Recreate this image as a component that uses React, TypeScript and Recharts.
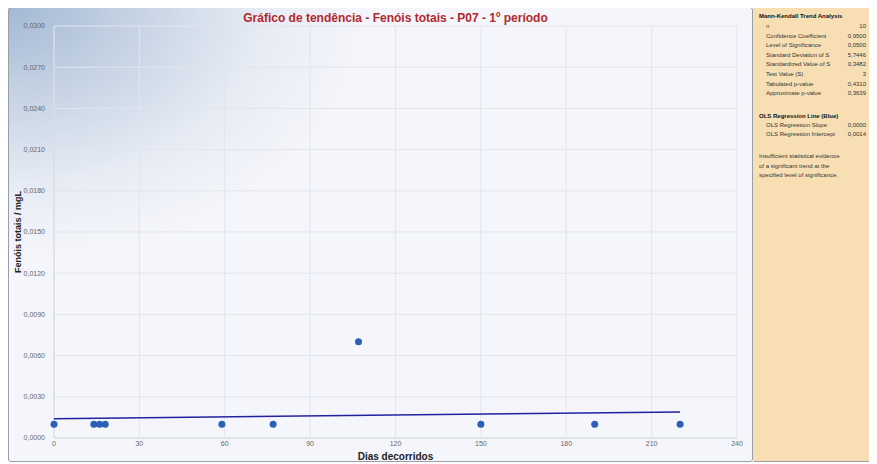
import { ScatterChart, Scatter, XAxis, YAxis, CartesianGrid } from 'recharts';

const days = [0, 14, 16, 18, 59, 77, 107, 150, 190, 220];
const values = [0.001, 0.001, 0.001, 0.001, 0.001, 0.001, 0.007, 0.001, 0.001, 0.001];
const regressionDays = [0, 220];
const regressionValues = [0.0014, 0.0019];
const xTicks = [0, 30, 60, 90, 120, 150, 180, 210, 240];
const yTicks = [0, 0.003, 0.006, 0.009, 0.012, 0.015, 0.018, 0.021, 0.024, 0.027, 0.03];

const mkLabels = ['n', 'Confidence Coefficient', 'Level of Significance', 'Standard Deviation of S', 'Standardized Value of S', 'Test Value (S)', 'Tabulated p-value', 'Approximate p-value'];
const mkValues = ['10', '0,9500', '0,0500', '5,7446', '0,3482', '3', '0,4310', '0,3639'];
const olsLabels = ['OLS Regression Slope', 'OLS Regression Intercept'];
const olsValues = ['0,0000', '0,0014'];
const conclusion = ['Insufficient statistical evidence', 'of a significant trend at the', 'specified level of significance.'];

const points = days.map((d, i) => ({ day: d, value: values[i] }));
const regression = regressionDays.map((d, i) => ({ day: d, value: regressionValues[i] }));

const fmt = (v: number) => v.toFixed(4).replace('.', ',');
const font = '"Liberation Sans", Arial, sans-serif';

function Row({ label, value }: { label: string; value: string }) {
    return (
        <div style={{ display: 'flex', justifyContent: 'space-between', paddingLeft: 7, height: 9.6, lineHeight: '9.6px', whiteSpace: 'nowrap' }}>
            <span>{label}</span>
            <span>{value}</span>
        </div>
    );
}

// y axis title, centred on the plot height
const YTitle = (props: any) => {
    const { x, y, height } = props.viewBox;
    const cx = x + 7;
    const cy = y + height / 2;
    return (
        <text
            x={cx}
            y={cy}
            transform={`rotate(-90 ${cx} ${cy})`}
            textAnchor="middle"
            fill="#222"
            fontSize={9}
            fontWeight="bold"
            fontFamily={font}
        >
            Fenóis totais / mgL
        </text>
    );
};

export default function App() {
    return (
        <div style={{ position: 'relative', width: 861, height: 455, marginTop: -1, fontFamily: font }}>
            <div
                style={{
                    position: 'absolute',
                    left: 0,
                    top: 0,
                    width: 743,
                    height: 453,
                    border: '1px solid #9a9ea6',
                    borderRadius: 3,
                    background: 'radial-gradient(ellipse 360px 250px at 0 0, #a3b9d4 0%, #c6d3e4 35%, #e6ebf4 70%, #f5f6fb 100%)',
                    backgroundColor: '#f5f6fb',
                }}
            >
                <div
                    style={{
                        position: 'absolute',
                        left: 45,
                        width: 683,
                        top: 3,
                        textAlign: 'center',
                        color: '#b3282d',
                        fontWeight: 'bold',
                        fontSize: 12,
                    }}
                >
                    Gráfico de tendência - Fenóis totais - P07 - 1º período
                </div>
                <ScatterChart width={743} height={453} margin={{ top: 18, right: 15, bottom: 0, left: 5 }}>
                    <CartesianGrid stroke="#e2e5ec" horizontalValues={yTicks} verticalValues={xTicks} />
                    <XAxis
                        type="number"
                        dataKey="day"
                        domain={[0, 240]}
                        ticks={xTicks}
                        axisLine={{ stroke: '#d6d9e0' }}
                        tickLine={false}
                        tickSize={3}
                        tick={{ fill: '#666', fontSize: 7, fontFamily: font }}
                        height={23}
                        tickMargin={0}
                        label={{ value: 'Dias decorridos', position: 'insideBottom', offset: 1, fill: '#222', fontSize: 10, fontWeight: 'bold', fontFamily: font }}
                    />
                    <YAxis
                        type="number"
                        dataKey="value"
                        domain={[0, 0.03]}
                        ticks={yTicks}
                        tickFormatter={fmt}
                        axisLine={{ stroke: '#d6d9e0' }}
                        tickLine={false}
                        tick={{ fill: '#666', fontSize: 7, fontFamily: font }}
                        width={40}
                        tickMargin={3}
                        label={{ content: YTitle }}
                    />
                    <Scatter
                        data={regression}
                        line={{ stroke: '#2222a0', strokeWidth: 1.5 }}
                        shape={() => null}
                        isAnimationActive={false}
                    />
                    <Scatter
                        data={points}
                        fill="#2b5fb8"
                        shape={(p: any) => <circle cx={p.cx} cy={p.cy} r={3.5} fill="#2b5fb8" />}
                        isAnimationActive={false}
                    />
                </ScatterChart>
            </div>
            <div
                style={{
                    position: 'absolute',
                    left: 745,
                    top: -2,
                    width: 116,
                    height: 457,
                    background: '#f7dfb3',
                    borderTop: '1px solid #9a9ea6',
                    borderBottom: '1px solid #9a9ea6',
                    borderLeft: '1px solid #e8e2d6',
                    padding: '5px 3px 0 5px',
                    boxSizing: 'border-box',
                    fontSize: 6,
                    color: '#333',
                }}
            >
                <div style={{ fontWeight: 'bold', color: '#111', height: 11, lineHeight: '10px' }}>Mann-Kendall Trend Analysis</div>
                {mkLabels.map((l, i) => (
                    <Row key={l} label={l} value={mkValues[i]} />
                ))}
                <div style={{ fontWeight: 'bold', color: '#111', marginTop: 12, height: 10, lineHeight: '10px' }}>OLS Regression Line (Blue)</div>
                {olsLabels.map((l, i) => (
                    <Row key={l} label={l} value={olsValues[i]} />
                ))}
                <div style={{ marginTop: 12 }}>
                    {conclusion.map(c => (
                        <div key={c} style={{ height: 9.6, lineHeight: '9.6px' }}>{c}</div>
                    ))}
                </div>
            </div>
        </div>
    );
}
